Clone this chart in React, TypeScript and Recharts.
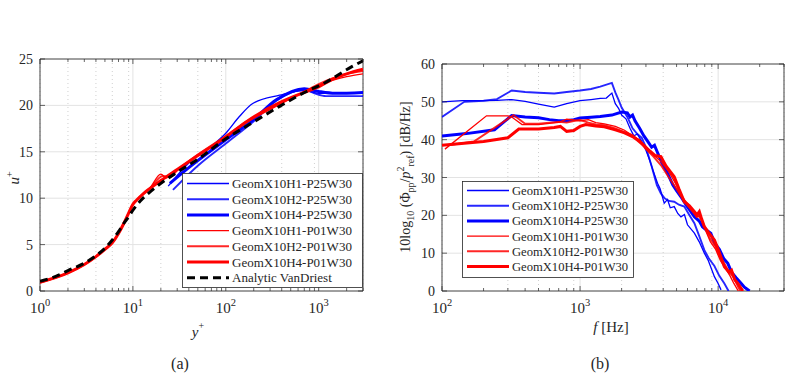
import React from 'react'
import { LineChart, Line, XAxis, YAxis, CartesianGrid, ReferenceArea } from 'recharts'

const FONT = '"Liberation Serif", "DejaVu Serif", serif'
const INK = '#262626'
const BLUE = '#0000ff'
const RED = '#ff0000'

// ---- panel (a): u+ against y+
const aMajorTicks = [1, 10, 100, 1000]
const aMinorTicks = [2, 3, 4, 5, 6, 7, 8, 9, 20, 30, 40, 50, 60, 70, 80, 90, 200, 300, 400, 500, 600, 700, 800, 900, 2000, 3000]
const aYTicks = [0, 5, 10, 15, 20, 25]

const aH1P25 = [[24, 11.3], [40, 13.8], [70, 15.6], [100, 17.0], [140, 18.8], [195, 20.2], [380, 21.1], [700, 21.6], [1000, 21.3], [1500, 21.3], [3000, 21.3]]
const aH2P25 = [[27, 10.9], [50, 13.5], [100, 15.9], [200, 18.3], [350, 20.5], [700, 21.7], [900, 21.3], [1200, 21.0], [3000, 21.0]]
const aH4P25 = [[25, 11.6], [40, 13.3], [100, 16.3], [200, 18.5], [350, 20.6], [700, 21.8], [1000, 21.5], [1500, 21.3], [3000, 21.4]]
const aH1P01 = [[1, 0.9], [2, 1.95], [3, 2.85], [4, 3.7], [5, 4.5], [6, 5.2], [7, 6.2], [8, 7.3], [9, 8.4], [10, 9.3], [11, 9.8], [13, 10.5], [15, 11.0], [20, 12.6], [23, 12.2], [30, 13.0], [50, 14.6], [100, 16.6], [170, 18.2], [380, 20.1], [740, 21.6], [1000, 22.2], [1400, 22.7], [2000, 23.1], [3000, 23.4]]
const aH2P01 = [[1, 0.9], [2, 1.95], [3, 2.85], [4, 3.7], [5, 4.5], [6, 5.2], [7, 6.2], [8, 7.3], [9, 8.4], [10, 9.3], [11, 9.8], [13, 10.5], [15, 11.0], [21, 12.4], [25, 12.3], [30, 13.0], [50, 14.7], [100, 16.7], [170, 18.3], [380, 20.2], [740, 21.6], [1000, 22.3], [1400, 22.9], [2000, 23.4], [3000, 23.7]]
const aH4P01 = [[1, 0.95], [2, 1.95], [3, 2.85], [4, 3.7], [5, 4.5], [6, 5.2], [7, 6.2], [8, 7.3], [9, 8.4], [10, 9.35], [11, 9.8], [13, 10.5], [15, 11.0], [20, 11.9], [30, 13.1], [50, 14.6], [100, 16.6], [170, 18.3], [380, 20.3], [740, 21.5], [1000, 22.0], [1400, 22.8], [2000, 23.4], [3000, 23.9]]
const aVanDriest = [[1, 1.05], [1.5, 1.6], [2, 2.2], [3, 3.0], [4, 3.8], [5, 4.6], [6, 5.5], [7, 6.4], [8, 7.3], [9, 8.0], [10, 8.7], [12, 9.7], [15, 10.6], [20, 11.6], [30, 12.8], [50, 14.2], [100, 16.4], [170, 17.8], [380, 19.9], [740, 21.5], [1100, 22.3], [2300, 24.2], [3000, 24.8]]

// ---- panel (b): spectra
const bMajorTicks = [100, 1000, 10000]
const bMinorTicks = [200, 300, 400, 500, 600, 700, 800, 900, 2000, 3000, 4000, 5000, 6000, 7000, 8000, 9000, 20000, 30000]
const bYTicks = [0, 10, 20, 30, 40, 50, 60]

const bH1P25 = [[100, 50], [140, 50.3], [200, 50.3], [250, 50.4], [320, 50.6], [400, 50.1], [500, 49.4], [650, 48.6], [800, 49.5], [1000, 50.3], [1200, 50.6], [1400, 50.9], [1550, 51.0], [1700, 52.3], [1800, 49.5], [1900, 48.3], [2000, 46.5], [2150, 45.5], [2300, 43], [2450, 41], [2600, 41.5], [2800, 39.5], [3000, 37.2], [3200, 34.5], [3400, 31.5], [3640, 28.5], [3800, 27], [4070, 23.2], [4300, 24.2], [4500, 22], [4810, 22.3], [5100, 20.5], [5380, 19.6], [5700, 20.2], [6000, 17.5], [6730, 15.3], [7300, 13], [7950, 10], [8500, 8], [9400, 3.8], [10000, 2], [10500, 0.3]]
const bH2P25 = [[100, 46], [145, 50], [200, 50.3], [250, 50.7], [320, 53], [400, 52.6], [500, 52.4], [650, 52.2], [800, 52.6], [1000, 53], [1200, 53.4], [1400, 54], [1700, 55], [1800, 52.5], [1900, 50.5], [2000, 48.5], [2200, 46], [2400, 43], [2600, 41.5], [2800, 40.5], [3000, 38], [3300, 33], [3600, 28], [3850, 25.8], [4100, 24.5], [4400, 23.8], [4810, 23.6], [5200, 22.8], [5690, 22.3], [6200, 20], [6730, 17.9], [7300, 14.5], [7950, 10.8], [8600, 8.5], [9400, 6.6], [10200, 4], [11100, 2], [11900, 0]]
const bH4P25 = [[100, 41], [150, 41.6], [240, 42.6], [320, 46.4], [400, 46], [500, 45.8], [600, 45.3], [700, 45], [800, 45], [900, 45.3], [1000, 45.7], [1200, 45.9], [1400, 46.1], [1700, 46.5], [2000, 47.3], [2200, 47.1], [2300, 46], [2400, 46.5], [2500, 45], [2700, 43], [2900, 41], [3100, 39.5], [3300, 38], [3460, 38.5], [3600, 37], [3900, 34], [4310, 31.1], [4700, 28], [5000, 26.5], [5380, 24.9], [5800, 23], [6200, 21.5], [6730, 19.6], [7300, 18.5], [7700, 17], [8300, 16], [8840, 15.3], [9500, 12.5], [10200, 11], [11000, 8.5], [11750, 7.3], [12500, 5], [13500, 3.5], [14700, 2], [15500, 1], [16900, 0]]
const bH1P01 = [[105, 37.5], [210, 46.3], [300, 46.3], [320, 46], [380, 44], [500, 44], [600, 44.3], [700, 44.6], [800, 45.4], [900, 45.2], [1000, 45], [1150, 45.3], [1300, 44.5], [1500, 44.2], [1800, 43.5], [2100, 42.5], [2400, 41], [2700, 40], [3000, 38], [3400, 36], [3900, 34], [4400, 31.5], [4900, 28.5], [5400, 25.5], [6000, 22.5], [6500, 21], [7000, 19.5], [7400, 20], [8000, 16.5], [8800, 13], [9600, 11], [10400, 8], [11300, 6], [12200, 4], [13000, 2], [14000, 0]]
const bH2P01 = [[110, 38.5], [170, 39.5], [300, 45.5], [330, 46.5], [400, 44.2], [500, 44.2], [600, 44.5], [700, 44.7], [800, 44.5], [900, 44.9], [1000, 45.2], [1150, 44.5], [1300, 44], [1500, 43.8], [1800, 43], [2100, 42], [2400, 41.2], [2700, 39.5], [3000, 37.5], [3400, 35.5], [3900, 33], [4400, 30], [4900, 27.5], [5400, 25], [6000, 23], [6500, 21.5], [7000, 20.5], [7500, 19], [8000, 17], [8700, 14], [9500, 12], [10300, 9], [11200, 7], [12000, 5], [13000, 3.5], [14000, 1], [14500, 0]]
const bH4P01 = [[100, 38.5], [200, 39.5], [300, 40.5], [360, 42.8], [500, 42.8], [650, 43.2], [720, 43.5], [800, 42.2], [900, 42.4], [1000, 43.5], [1100, 44], [1300, 43.6], [1500, 43.4], [1800, 42.6], [2100, 41.8], [2400, 40.8], [2606, 39.9], [2900, 38.5], [3200, 37], [3500, 35.8], [3850, 35.5], [4200, 33], [4810, 30.2], [5200, 27], [5690, 23.6], [6200, 22.5], [6730, 21], [7000, 20], [7310, 21], [7600, 19], [7950, 17], [8500, 15.5], [9400, 13.5], [10000, 11], [11100, 6.4], [12000, 5], [12500, 5.5], [13200, 3], [13900, 2], [15100, 0]]

type Pair = number[]
const toPts = (arr: Pair[]) => arr.map(([x, y]) => ({ x, y }))

interface Series {
  name: string
  color: string
  width: number
  dash?: string
  opacity?: number
  pts: Pair[]
}

const seriesA: Series[] = [
  { name: 'GeomX10H1-P25W30', color: BLUE, width: 1.3, pts: aH1P25 },
  { name: 'GeomX10H2-P25W30', color: BLUE, width: 1.9, opacity: 0.85, pts: aH2P25 },
  { name: 'GeomX10H4-P25W30', color: BLUE, width: 3, pts: aH4P25 },
  { name: 'GeomX10H1-P01W30', color: RED, width: 1.3, pts: aH1P01 },
  { name: 'GeomX10H2-P01W30', color: RED, width: 1.9, opacity: 0.85, pts: aH2P01 },
  { name: 'GeomX10H4-P01W30', color: RED, width: 3, pts: aH4P01 },
  { name: 'Analytic VanDriest', color: '#000000', width: 3, dash: '8 5', pts: aVanDriest },
]

const seriesB: Series[] = [
  { name: 'GeomX10H1-P25W30', color: BLUE, width: 1.3, pts: bH1P25 },
  { name: 'GeomX10H2-P25W30', color: BLUE, width: 1.9, opacity: 0.85, pts: bH2P25 },
  { name: 'GeomX10H4-P25W30', color: BLUE, width: 3, pts: bH4P25 },
  { name: 'GeomX10H1-P01W30', color: RED, width: 1.3, pts: bH1P01 },
  { name: 'GeomX10H2-P01W30', color: RED, width: 1.9, opacity: 0.85, pts: bH2P01 },
  { name: 'GeomX10H4-P01W30', color: RED, width: 3, pts: bH4P01 },
]

// tick renderers: inside tick marks (bottom+top / left+right) and labels
const makeXTick = (majors: number[], plotH: number) => (props: any) => {
  const { x, y, payload } = props
  const v = payload.value
  const major = majors.includes(v)
  const len = major ? 5 : 3
  return (
    <g>
      <line x1={x} x2={x} y1={y} y2={y - len} stroke={INK} strokeWidth={0.7} />
      <line x1={x} x2={x} y1={y - plotH} y2={y - plotH + len} stroke={INK} strokeWidth={0.7} />
      {major && (
        <text x={x} y={y + 22} textAnchor="middle" fontFamily={FONT} fontSize={15} fill={INK}>
          <tspan>10</tspan>
          <tspan dy={-7} fontSize={10.5}>{Math.round(Math.log10(v))}</tspan>
        </text>
      )}
    </g>
  )
}

const makeYTick = (plotW: number) => (props: any) => {
  const { x, y, payload } = props
  return (
    <g>
      <line x1={x} x2={x + 5} y1={y} y2={y} stroke={INK} strokeWidth={0.7} />
      <line x1={x + plotW} x2={x + plotW - 5} y1={y} y2={y} stroke={INK} strokeWidth={0.7} />
      <text x={x - 7} y={y + 5} textAnchor="end" fontFamily={FONT} fontSize={14} fill={INK}>{payload.value}</text>
    </g>
  )
}

interface PanelProps {
  left: number
  width: number
  top: number
  right: number
  yAxisW: number
  xDomain: number[]
  yDomain: number[]
  majors: number[]
  minors: number[]
  yTicks: number[]
  series: Series[]
  curve: 'monotone' | 'linear'
}

const Panel = ({ left, width, top, right, yAxisW, xDomain, yDomain, majors, minors, yTicks, series, curve }: PanelProps) => {
  const height = 380
  const bottom = 291
  const plotH = bottom - top
  const plotW = width - right - yAxisW
  return (
    <div style={{ position: 'absolute', left, top: 0 }}>
      <LineChart width={width} height={height} margin={{ top, right, bottom: height - bottom - 30, left: 0 }}>
        <XAxis xAxisId="maj" hide type="number" dataKey="x" scale="log" domain={xDomain} ticks={majors} allowDataOverflow />
        <XAxis xAxisId="min" hide type="number" dataKey="x" scale="log" domain={xDomain} ticks={minors} allowDataOverflow />
        <CartesianGrid xAxisId="maj" stroke="#e3e3e3" strokeWidth={1} />
        <CartesianGrid xAxisId="min" horizontal={false} stroke="#c4c4c4" strokeDasharray="1 3" strokeWidth={0.8} />
        <XAxis
          type="number"
          dataKey="x"
          scale="log"
          domain={xDomain}
          ticks={[...majors, ...minors].sort((p, q) => p - q)}
          interval={0}
          allowDataOverflow
          height={30}
          tickSize={0}
          tickMargin={0}
          axisLine={false}
          tick={makeXTick(majors, plotH)}
        />
        <YAxis
          type="number"
          dataKey="y"
          domain={yDomain}
          ticks={yTicks}
          interval={0}
          allowDataOverflow
          width={yAxisW}
          tickSize={0}
          tickMargin={0}
          axisLine={false}
          tick={makeYTick(plotW)}
        />
        {series.map((s) => (
          <Line
            key={s.name}
            data={toPts(s.pts)}
            dataKey="y"
            type={curve}
            stroke={s.color}
            strokeWidth={s.width}
            strokeDasharray={s.dash}
            strokeOpacity={s.opacity ?? 1}
            dot={false}
            isAnimationActive={false}
          />
        ))}
        <ReferenceArea x1={xDomain[0]} x2={xDomain[1]} y1={yDomain[0]} y2={yDomain[1]} fill="none" stroke={INK} strokeWidth={0.8} />
      </LineChart>
    </div>
  )
}

const LegendBox = ({ x, y, w, h, rowY0, rowStep, items, fontSize }: any) => (
  <g>
    <rect x={x + 0.5} y={y + 0.5} width={w} height={h} fill="#ffffff" stroke={INK} strokeWidth={0.8} />
    {items.map((s: Series, i: number) => {
      const cy = rowY0 + i * rowStep
      return (
        <g key={s.name}>
          <line x1={x + 5} x2={x + 47} y1={cy} y2={cy} stroke={s.color} strokeWidth={s.width} strokeDasharray={s.dash} strokeOpacity={s.opacity ?? 1} />
          <text x={x + 50} y={cy + 4.5} fontFamily={FONT} fontSize={fontSize} fill={INK}>{s.name}</text>
        </g>
      )
    })}
  </g>
)

export default function App() {
  return (
    <div style={{ position: 'absolute', left: 0, top: 0, width: 812, height: 380, background: '#ffffff', overflow: 'hidden' }}>
      <Panel left={0} width={400} top={59} right={37} yAxisW={40} xDomain={[1, 3000]} yDomain={[0, 25]}
        majors={aMajorTicks} minors={aMinorTicks} yTicks={aYTicks} series={seriesA} curve="monotone" />
      <Panel left={400} width={412} top={64} right={28} yAxisW={42} xDomain={[100, 30000]} yDomain={[0, 60]}
        majors={bMajorTicks} minors={bMinorTicks} yTicks={bYTicks} series={seriesB} curve="linear" />
      <svg width={812} height={380} style={{ position: 'absolute', left: 0, top: 0, pointerEvents: 'none' }}>
        <LegendBox x={182} y={173} w={180} h={114} rowY0={183.5} rowStep={15.7} items={seriesA} fontSize={13} />
        <LegendBox x={462} y={181} w={171} h={96} rowY0={190.5} rowStep={15.2} items={seriesB} fontSize={12.6} />
        <text transform="translate(19,178) rotate(-90)" fontFamily={FONT} fontSize={15} fill={INK} textAnchor="middle">
          <tspan fontStyle="italic">u</tspan>
          <tspan dy={-6} fontSize={10}>+</tspan>
        </text>
        <text x={198} y={337} fontFamily={FONT} fontSize={15} fill={INK} textAnchor="middle">
          <tspan fontStyle="italic">y</tspan>
          <tspan dy={-8} fontSize={10}>+</tspan>
        </text>
        <text x={180} y={369} fontFamily={FONT} fontSize={16} fill={INK} textAnchor="middle">(a)</text>
        <text x={611} y={332} fontFamily={FONT} fontSize={15} fill={INK} textAnchor="middle">
          <tspan fontStyle="italic">f</tspan>
          <tspan> [Hz]</tspan>
        </text>
        <text x={600} y={369} fontFamily={FONT} fontSize={16} fill={INK} textAnchor="middle">(b)</text>
        <text transform="translate(410,177) rotate(-90)" fontFamily={FONT} fontSize={14} fill={INK} textAnchor="middle">
          <tspan>10log</tspan>
          <tspan dy={4} fontSize={10}>10</tspan>
          <tspan dy={-4}> (Φ</tspan>
          <tspan dy={4} fontSize={10}>pp</tspan>
          <tspan dy={-4}>/</tspan>
          <tspan fontStyle="italic">p</tspan>
          <tspan dy={-6} fontSize={10}>2</tspan>
          <tspan dy={10} fontSize={10}>ref</tspan>
          <tspan dy={-4}>) [dB/Hz]</tspan>
        </text>
      </svg>
    </div>
  )
}
